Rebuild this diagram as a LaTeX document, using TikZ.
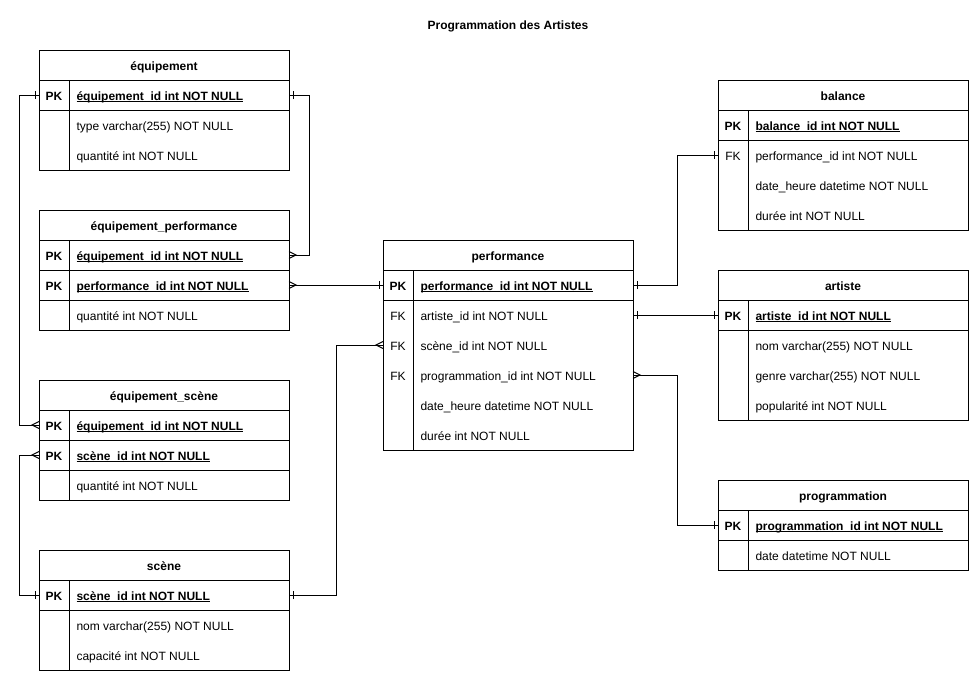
\documentclass[tikz,border=0pt]{standalone}
\usepackage{fontspec}
\setmainfont{Liberation Sans}[Scale=1.2]
\usetikzlibrary{positioning,fit}

\pgfdeclarearrow{
  name = One,
  setup code = {\pgfarrowssettipend{0pt}\pgfarrowssetlineend{0pt}\pgfarrowssetbackend{-5pt}},
  drawing code = {\pgfpathmoveto{\pgfpoint{-4pt}{4pt}}\pgfpathlineto{\pgfpoint{-4pt}{-4pt}}\pgfusepathqstroke}
}
\pgfdeclarearrow{
  name = Crow,
  setup code = {\pgfarrowssettipend{0pt}\pgfarrowssetlineend{0pt}\pgfarrowssetbackend{-7pt}},
  drawing code = {\pgfpathmoveto{\pgfpoint{0pt}{3.5pt}}\pgfpathlineto{\pgfpoint{-7pt}{0pt}}\pgfpathlineto{\pgfpoint{0pt}{-3.5pt}}\pgfusepathqstroke}
}

\newcommand{\Head}[3]{\node[HeadStyle, anchor=north west] (#2) at (#1) {#3};}
\newcommand{\Key}[4]{%
  \node[RowStyle, below=0pt of #1] (#2) {};
  \node[TagStyle, font=\bfseries] (#2-tag) at ([xshift=15pt]#2.west) {#3};
  \node[TextStyle, font=\bfseries] (#2-txt) at ([xshift=37pt]#2.west) {\underline{\smash{#4}}};
  \draw (#2.south west) -- (#2.south east);}
\newcommand{\Field}[4]{%
  \node[RowStyle, below=0pt of #1] (#2) {};
  \node[TagStyle] (#2-tag) at ([xshift=15pt]#2.west) {#3};
  \node[TextStyle] (#2-txt) at ([xshift=37pt]#2.west) {#4};}
\newcommand{\Frame}[2]{%
  \node[BoxStyle, fit=(#1)(#2)] (#1-box) {};
  \draw ([xshift=30pt]#1.south west) -- ([xshift=30pt]#2.south west);}

\begin{document}
\begin{tikzpicture}[x=1pt, y=-1pt, line width=1pt]
  \tikzstyle{HeadStyle}=[draw, font=\bfseries, minimum width=250pt, minimum height=30pt, inner sep=0pt, outer sep=0pt, text height=13pt, text depth=3pt]
  \tikzstyle{RowStyle}=[minimum width=250pt, minimum height=30pt, inner sep=0pt, outer sep=0pt]
  \tikzstyle{TagStyle}=[inner sep=0pt, text height=13pt, text depth=3pt, anchor=center]
  \tikzstyle{TextStyle}=[inner sep=0pt, text height=13pt, text depth=3pt, anchor=west]
  \tikzstyle{BoxStyle}=[draw, inner sep=0pt, outer sep=0pt]
  \useasboundingbox (0,0) rectangle (979,681);
  \node[font=\bfseries, anchor=base] (title) at (508,29) {Programmation des Artistes};
  % tables
  \Head{39,50}{eq}{équipement}
  \Key{eq}{eq-id}{PK}{équipement\_id int NOT NULL}
  \Field{eq-id}{eq-type}{}{type varchar(255) NOT NULL}
  \Field{eq-type}{eq-qty}{}{quantité int NOT NULL}
  \Frame{eq}{eq-qty}
  \Head{39,210}{ep}{équipement\_performance}
  \Key{ep}{ep-eq}{PK}{équipement\_id int NOT NULL}
  \Key{ep-eq}{ep-perf}{PK}{performance\_id int NOT NULL}
  \Field{ep-perf}{ep-qty}{}{quantité int NOT NULL}
  \Frame{ep}{ep-qty}
  \Head{39,380}{es}{équipement\_scène}
  \Key{es}{es-eq}{PK}{équipement\_id int NOT NULL}
  \Key{es-eq}{es-sc}{PK}{scène\_id int NOT NULL}
  \Field{es-sc}{es-qty}{}{quantité int NOT NULL}
  \Frame{es}{es-qty}
  \Head{39,550}{sc}{scène}
  \Key{sc}{sc-id}{PK}{scène\_id int NOT NULL}
  \Field{sc-id}{sc-nom}{}{nom varchar(255) NOT NULL}
  \Field{sc-nom}{sc-cap}{}{capacité int NOT NULL}
  \Frame{sc}{sc-cap}
  \Head{383,240}{perf}{performance}
  \Key{perf}{perf-id}{PK}{performance\_id int NOT NULL}
  \Field{perf-id}{perf-art}{FK}{artiste\_id int NOT NULL}
  \Field{perf-art}{perf-sc}{FK}{scène\_id int NOT NULL}
  \Field{perf-sc}{perf-prog}{FK}{programmation\_id int NOT NULL}
  \Field{perf-prog}{perf-date}{}{date\_heure datetime NOT NULL}
  \Field{perf-date}{perf-dur}{}{durée int NOT NULL}
  \Frame{perf}{perf-dur}
  \Head{718,80}{bal}{balance}
  \Key{bal}{bal-id}{PK}{balance\_id int NOT NULL}
  \Field{bal-id}{bal-perf}{FK}{performance\_id int NOT NULL}
  \Field{bal-perf}{bal-date}{}{date\_heure datetime NOT NULL}
  \Field{bal-date}{bal-dur}{}{durée int NOT NULL}
  \Frame{bal}{bal-dur}
  \Head{718,270}{art}{artiste}
  \Key{art}{art-id}{PK}{artiste\_id int NOT NULL}
  \Field{art-id}{art-nom}{}{nom varchar(255) NOT NULL}
  \Field{art-nom}{art-genre}{}{genre varchar(255) NOT NULL}
  \Field{art-genre}{art-pop}{}{popularité int NOT NULL}
  \Frame{art}{art-pop}
  \Head{718,480}{prog}{programmation}
  \Key{prog}{prog-id}{PK}{programmation\_id int NOT NULL}
  \Field{prog-id}{prog-date}{}{date datetime NOT NULL}
  \Frame{prog}{prog-date}
  % relations
  \draw[One-Crow] (eq-id.east) -- ++(20,0) |- (ep-eq.east);
  \draw[Crow-One] (ep-perf.east) -- (perf-id.west);
  \draw[One-Crow] (eq-id.west) -- ++(-20,0) |- (es-eq.west);
  \draw[One-Crow] (sc-id.west) -- ++(-20,0) |- (es-sc.west);
  \draw[One-Crow] (sc-id.east) -- ++(47,0) |- (perf-sc.west);
  \draw[One-One] (perf-id.east) -- ++(44,0) |- (bal-perf.west);
  \draw[One-One] (perf-art.east) -- (art-id.west);
  \draw[Crow-One] (perf-prog.east) -- ++(44,0) |- (prog-id.west);
\end{tikzpicture}
\end{document}
